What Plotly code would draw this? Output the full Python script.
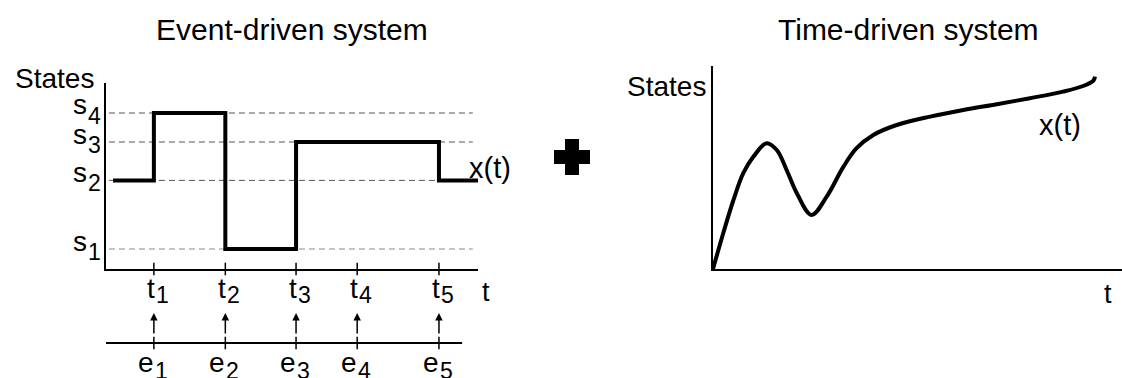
import plotly.graph_objects as go

FONT = "Liberation Sans, Arial, sans-serif"
W, H = 1122, 378

# ---- event-driven system (left) ----
event_times = [1.30, 3.24, 5.16, 6.82, 9.04]          # t1..t5
event_index = ["1", "2", "3", "4", "5"]
state_names = ["1", "2", "3", "4"]
state_levels = [1.0, 4.43, 6.35, 7.8]                # s1..s4
path_t = [0.19, 1.30, 3.24, 5.16, 6.82, 9.04, 10.1]
path_state = [4.43, 7.8, 1.0, 6.35, 6.35, 4.43, 4.43]
dash_span = [0.08, 9.96]
event_line_span = [0.0, 9.67]

# ---- time-driven system (right) ----
curve_t = [0.0, 0.25, 0.50, 0.74, 0.99, 1.31, 1.56, 1.80, 2.05, 2.41, 2.78,
           3.19, 3.51, 3.92, 4.49, 5.31, 6.12, 6.94, 7.75, 8.56, 9.05, 9.30, 9.34]
curve_x = [0.0, 1.79, 3.45, 4.79, 5.62, 6.29, 5.95, 4.95, 3.79, 2.70, 3.62,
           5.12, 6.04, 6.70, 7.20, 7.62, 7.95, 8.24, 8.54, 8.87, 9.15, 9.42, 9.62]

MAIN, SUB = 28, 23


def px(p):
    return p / W


def py(p):
    return (H - p) / H


fig = go.Figure()

# dashed state levels
for name, lvl in zip(state_names, state_levels):
    fig.add_trace(go.Scatter(
        x=dash_span, y=[lvl, lvl], mode='lines',
        line=dict(color='#888888' if name == "1" else '#555555', width=1, dash='6px,4px'),
        xaxis='x', yaxis='y', hoverinfo='skip'
    ))

# state trajectory
fig.add_trace(go.Scatter(
    x=path_t, y=path_state, mode='lines', line_shape='hv',
    line=dict(color='black', width=4), xaxis='x', yaxis='y'
))

# ticks on time axis
fig.add_trace(go.Scatter(
    x=event_times, y=[0] * len(event_times), mode='markers', cliponaxis=False,
    marker=dict(symbol='line-ns', size=9, line=dict(width=1.5, color='black')),
    xaxis='x', yaxis='y'
))

# event line + ticks
fig.add_trace(go.Scatter(
    x=event_line_span, y=[0, 0], mode='lines',
    line=dict(color='black', width=2), xaxis='x2', yaxis='y2'
))
fig.add_trace(go.Scatter(
    x=event_times, y=[0] * len(event_times), mode='markers', cliponaxis=False,
    marker=dict(symbol='line-ns', size=9, line=dict(width=1.5, color='black')),
    xaxis='x2', yaxis='y2'
))

# continuous trajectory
fig.add_trace(go.Scatter(
    x=curve_t, y=curve_x, mode='lines', line_shape='spline',
    line=dict(color='black', width=4), xaxis='x3', yaxis='y3'
))

ax_common = dict(showgrid=False, zeroline=False, showticklabels=False, ticks='',
                 showline=True, linecolor='black', linewidth=2)
hidden = dict(visible=False, showgrid=False, zeroline=False)

fig.update_layout(
    width=W, height=H,
    margin=dict(l=0, r=0, t=0, b=0),
    plot_bgcolor='white', paper_bgcolor='white',
    showlegend=False,
    font=dict(family=FONT, color='black', size=24),
    xaxis=dict(domain=[px(106), px(478)], range=[0, 10.1], anchor='y', **ax_common),
    yaxis=dict(domain=[py(269), py(83)], range=[0, 9.3], anchor='x', **ax_common),
    xaxis2=dict(domain=[px(106), px(478)], range=[0, 10.1], anchor='y2', **hidden),
    yaxis2=dict(domain=[0, py(300)], range=[-35, 43], anchor='x2', **hidden),
    xaxis3=dict(domain=[px(713), 1.0], range=[0, 10], anchor='y3', **ax_common),
    yaxis3=dict(domain=[py(269), py(66)], range=[0, 10.15], anchor='x3', **ax_common),
)

ann = []


def label(text, x, y, size=24, xanchor='center', yanchor='middle', xref='paper', yref='paper', **kw):
    ann.append(dict(text=text, x=x, y=y, xref=xref, yref=yref, showarrow=False,
                    xanchor=xanchor, yanchor=yanchor, borderpad=0,
                    font=dict(size=size, family=FONT, color='black'), **kw))


label("Event-driven system", px(292), py(29), size=30)
label("Time-driven system", px(908), py(29), size=30)
label("States", px(95), py(79), size=28, xanchor='right')
label("States", px(707), py(86), size=28, xanchor='right')
label("x(t)", px(468), py(168), size=29, xanchor='left')
label("x(t)", px(1038), py(125), size=29, xanchor='left')
label("t", px(485.5), py(291.5), size=27)
label("t", px(1107.5), py(294), size=27)

# state labels: letter left of the subscript, subscript a bit lower
for name, lvl in zip(state_names, state_levels):
    label("s", px(88), lvl, size=MAIN, xanchor='right', yref='y', yshift=8)
    label(name, px(87), lvl, size=SUB, xanchor='left', yref='y', yshift=-3)

for t, idx in zip(event_times, event_index):
    label("t", t, py(288.5), size=MAIN, xref='x', xanchor='right', xshift=2)
    label(idx, t, py(295), size=SUB, xref='x', xanchor='left', xshift=1)
    label("e", t, py(362.5), size=MAIN, xref='x2', xanchor='right', xshift=1)
    label(idx, t, py(371), size=SUB, xref='x2', xanchor='left', xshift=0)
    ann.append(dict(x=t, y=30, xref='x2', yref='y2', text='', showarrow=True,
                    ax=0, ay=22, arrowhead=2, arrowsize=1, arrowwidth=1.5,
                    arrowcolor='black', standoff=0))

fig.update_layout(annotations=ann)

# plus sign between the panels
fig.add_shape(type='rect', xref='paper', yref='paper', x0=px(554), x1=px(590),
              y0=py(164), y1=py(150), fillcolor='black', line_width=0)
fig.add_shape(type='rect', xref='paper', yref='paper', x0=px(565), x1=px(579),
              y0=py(175), y1=py(139), fillcolor='black', line_width=0)

fig.write_html(
    "out.html",
    config={'displayModeBar': False},
    post_script="document.body.style.margin='0';document.body.style.overflow='hidden';"
)
